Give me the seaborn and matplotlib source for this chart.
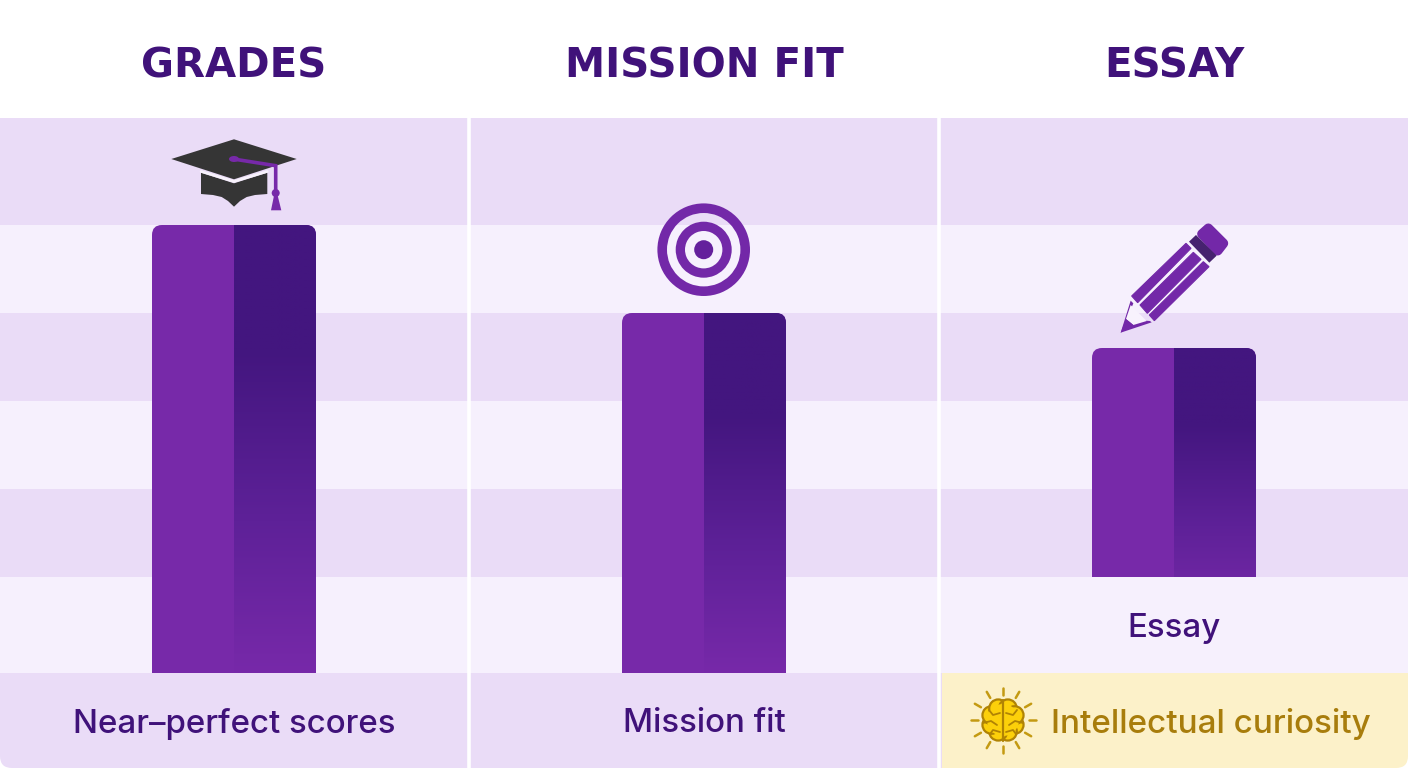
import numpy as np
import pandas as pd
import matplotlib
matplotlib.use("Agg")
import matplotlib.pyplot as plt
import seaborn as sns
from matplotlib.patches import Polygon, Circle, Ellipse, Rectangle, Annulus, PathPatch
from matplotlib.path import Path
from matplotlib.colors import LinearSegmentedColormap

categories = ["Grades", "Mission fit", "Essay"]
titles = ["GRADES", "MISSION FIT", "ESSAY"]
bar_tops = [448, 360, 325]
bar_bottoms = [0, 0, 96]
labels = ["Near\u2013perfect scores", "Mission fit"]
essay_label = "Essay"
highlight_label = "Intellectual curiosity"
band_edges = [-95, 0, 96, 184, 272, 360, 448, 555]

PURPLE = "#7729a9"
DARK = "#43167f"
INK = "#40127a"
BAND_A = "#eadcf7"
BAND_B = "#f6f0fd"

sns.set_theme(style="white")
plt.rcParams["font.family"] = ["Inter", "DejaVu Sans"]

fig = plt.figure(figsize=(14.08, 7.68), dpi=100, facecolor="white")
ax = fig.add_axes([0, 0, 1, 1])
ax.set_facecolor("white")

df = pd.DataFrame({"category": categories, "height": np.array(bar_tops) - np.array(bar_bottoms)})
sns.barplot(data=df, x="category", y="height", color=PURPLE, saturation=1, width=164 / 470,
            bottom=bar_bottoms, ax=ax, zorder=3, linewidth=0, errorbar=None)
bars = [p for p in ax.patches if isinstance(p, Rectangle)]

ax.set_xlabel("")
ax.set_ylabel("")
ax.set_xticks([])
ax.set_yticks([])
for s in ax.spines.values():
    s.set_visible(False)

for i in range(len(band_edges) - 1):
    ax.axhspan(band_edges[i], band_edges[i + 1], color=BAND_A if i % 2 == 0 else BAND_B, lw=0, zorder=0)
# highlighted cell
ax.add_patch(Rectangle((1.5 + 3 / 470, -130), 2, 130, fc="#fcf1c9", ec="none", zorder=1))
for xs in (0.5, 1.5):
    ax.axvline(xs, color="white", lw=2.6, zorder=2)

cmap = LinearSegmentedColormap.from_list(
    "g", [(0, DARK), (0.28, DARK), (0.66, "#5e2198"), (1, PURPLE)])
for i, bar in enumerate(bars):
    x0, w = bar.get_x(), bar.get_width()
    y0, h = bar.get_y(), bar.get_height()
    r_x, r_y = 10 / 470, 10
    verts = [(x0, y0), (x0 + w, y0), (x0 + w, y0 + h - r_y), (x0 + w, y0 + h), (x0 + w - r_x, y0 + h),
             (x0 + r_x, y0 + h), (x0, y0 + h), (x0, y0 + h - r_y), (x0, y0)]
    codes = [Path.MOVETO, Path.LINETO, Path.LINETO, Path.CURVE3, Path.CURVE3, Path.LINETO, Path.CURVE3,
             Path.CURVE3, Path.CLOSEPOLY]
    cp = PathPatch(Path(verts, codes), transform=ax.transData, fc="none", ec="none")
    ax.add_patch(cp)
    bar.set_clip_path(cp)
    span = 1.0 if i < 2 else 0.85
    grad = np.linspace(0, span, 256).reshape(-1, 1)
    im = ax.imshow(grad, extent=(x0 + w / 2, x0 + w, y0, y0 + h), origin="upper", cmap=cmap,
                   vmin=0, vmax=1, aspect="auto", zorder=4)
    im.set_clip_path(cp)
ax.set_xlim(-234 / 470, (1408 - 234) / 470)
ax.set_ylim(-95, 673)

# Overlay in pixel coordinates for text and icons
ov = fig.add_axes([0, 0, 1, 1], facecolor="none")
ov.set_xlim(0, 1408)
ov.set_ylim(768, 0)
ov.axis("off")

# rounded bottom corners of the panel
R = 12
for cx0, sgn in ((0, 1), (1408, -1)):
    v = [(cx0, 768), (cx0 + sgn * R, 768), (cx0, 768), (cx0, 768 - R), (cx0, 768)]
    c = [Path.MOVETO, Path.LINETO, Path.CURVE3, Path.CURVE3, Path.CLOSEPOLY]
    ov.add_patch(PathPatch(Path(v, c), fc="white", ec="none"))

for cx, t in zip((234, 704, 1174), titles):
    ov.text(cx, 77, t, ha="center", va="baseline", fontsize=29, fontweight="bold", color=INK,
            family="DejaVu Sans")
for cx, t in zip((234, 704), labels):
    ov.text(cx, 720.5, t, ha="center", va="center_baseline", fontsize=23.8, fontweight="medium", color=INK)
ov.text(1174, 625, essay_label, ha="center", va="center_baseline", fontsize=23.8, fontweight="medium", color=INK)
ov.text(1051, 720.5, highlight_label, ha="left", va="center_baseline", fontsize=23.9, fontweight="medium",
        color="#a87d0c")

# Graduation cap
CAP = "#353535"
ov.add_patch(Polygon([(201, 172.7), (234, 183.3), (267.3, 172.7), (267.3, 194), (255, 195), (246.7, 197),
                      (240, 201), (234, 206.7), (228, 201), (221.7, 197), (213, 195), (201, 194)],
                     fc=CAP, ec="none"))
ov.add_patch(Polygon([(234, 139.3), (296.7, 159), (234, 179.3), (171.3, 159)], fc=CAP, ec="none"))
ov.plot([201, 234, 267.3], [171.5, 181.5, 171.5], color="#f8f3fc", lw=1.8)
ov.plot([233.3, 275.7, 275.7], [159, 165.7, 193], color=PURPLE, lw=2.6, solid_joinstyle="miter")
ov.add_patch(Ellipse((234, 159), 10, 6, fc=PURPLE, ec="none"))
ov.add_patch(Circle((275.7, 193), 4, fc=PURPLE, ec="none"))
ov.add_patch(Polygon([(274, 195.7), (277.7, 195.7), (281.3, 210.3), (271, 210.3)], fc=PURPLE, ec="none"))

# Target
TC = "#7328a8"
cx, cy = 703.7, 249.7
ov.add_patch(Annulus((cx, cy), 46.3, 9.6, fc=TC, ec="none"))
ov.add_patch(Annulus((cx, cy), 28, 9.3, fc=TC, ec="none"))
ov.add_patch(Circle((cx, cy), 9.5, fc="#64209c", ec="none"))

# Pencil
def pz(pts):
    return [(1090 + a / 3, 210 + b / 3) for a, b in pts]
ov.add_patch(Polygon(pz([(336, 72), (355, 55), (400, 100), (383, 122)]), fc=TC, ec=TC, lw=7, joinstyle="round"))
ov.add_patch(Polygon(pz([(297, 95), (318, 75), (380, 137), (358, 158)]), fc="#46226f", ec="none"))
ov.add_patch(Polygon(pz([(125, 258), (288, 100), (303, 115), (143, 278)]), fc=TC, ec=TC, lw=0.8))
ov.add_patch(Polygon(pz([(150, 285), (310, 127), (333, 148), (172, 310)]), fc=TC, ec=TC, lw=0.8))
ov.add_patch(Polygon(pz([(178, 315), (340, 155), (357, 170), (193, 332)]), fc=TC, ec=TC, lw=0.8))
ov.add_patch(Polygon(pz([(92, 368), (122, 272), (130, 280), (110, 328), (180, 333), (185, 337)]), fc=TC, ec="none"))
ov.add_patch(Polygon(pz([(122, 285), (170, 333), (130, 345), (108, 327)]), fc="#f8f2fd", ec="none"))
ov.add_patch(Polygon(pz([(92, 368), (108, 327), (130, 345)]), fc=TC, ec="none"))

# Brain icon
bx, by = 1003, 720
GOLD = "#b08304"
FILL = "#fcd00a"
for a in np.deg2rad(np.arange(0, 360, 30)):
    ov.plot([bx + 25.5 * np.cos(a), bx + 32.5 * np.cos(a)],
            [by + 25.5 * np.sin(a), by + 32.5 * np.sin(a)], color="#c49a12", lw=1.8)
for a in np.deg2rad(np.arange(0, 360, 45) + 22.5):
    ov.add_patch(Circle((bx + 12.5 * np.cos(a), by + 12.5 * np.sin(a)), 9, fc=FILL, ec=GOLD, lw=1.6))
ov.add_patch(Ellipse((bx, by), 32, 32, fc=FILL, ec="none"))
ov.plot([bx, bx], [by - 20, by + 21], color=GOLD, lw=1.6)
for sx in (-1, 1):
    ov.plot([bx + sx * 3, bx + sx * 10, bx + sx * 14], [by - 7, by - 5, by - 10], color=GOLD, lw=1.3)
    ov.plot([bx + sx * 20, bx + sx * 12, bx + sx * 6], [by + 3, by + 1, by + 5], color=GOLD, lw=1.3)
    ov.plot([bx + sx * 3, bx + sx * 10, bx + sx * 13], [by + 12, by + 10, by + 14], color=GOLD, lw=1.3)

fig.savefig("out.png", dpi=100, facecolor="white")
